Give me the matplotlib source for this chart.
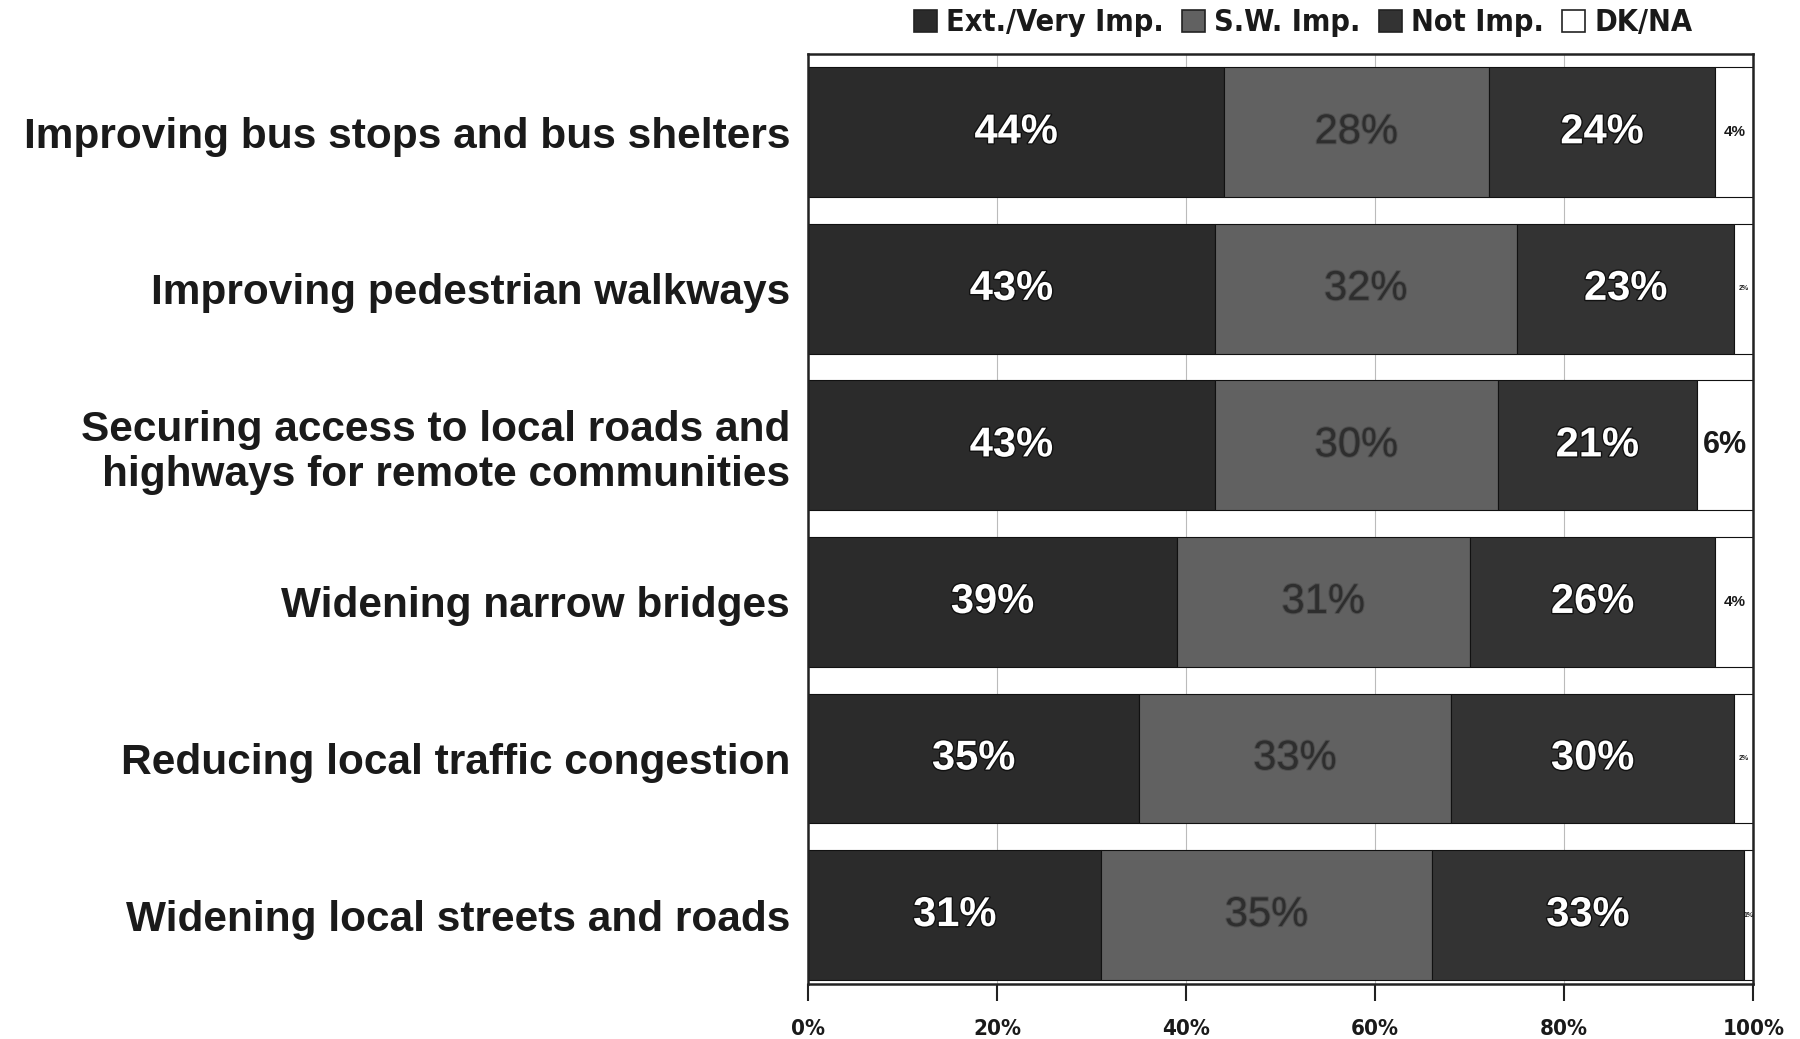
import numpy as np
import matplotlib
matplotlib.use("Agg")
import matplotlib.pyplot as plt
import matplotlib.patheffects as pe
from matplotlib.patches import Patch
from matplotlib import font_manager

categories = [
    "Improving bus stops and bus shelters",
    "Improving pedestrian walkways",
    "Securing access to local roads and\nhighways for remote communities",
    "Widening narrow bridges",
    "Reducing local traffic congestion",
    "Widening local streets and roads",
]
series_names = ["Ext./Very Imp.", "S.W. Imp.", "Not Imp.", "DK/NA"]
ext_very = [44, 43, 43, 39, 35, 31]
sw_imp = [28, 32, 30, 31, 33, 35]
not_imp = [24, 23, 21, 26, 30, 33]
dk_na = [4, 2, 6, 4, 2, 1]
x_ticks = [0, 20, 40, 60, 80, 100]

colors = ["#2b2b2b", "#616161", "#333333", "#ffffff"]
label_colors = ["white", "#2e2e2e", "white", "#1a1a1a"]

# condensed bold face for the legend and the axis ticks
narrow = font_manager.FontProperties(family="DejaVu Sans", stretch="condensed",
                                     weight="bold")

plt.rcParams["font.family"] = ["Liberation Sans", "DejaVu Sans"]

fig = plt.figure(figsize=(18, 10.39), dpi=100)
ax = fig.add_axes([0.449, 0.053, 0.525, 0.895])

y = np.arange(len(categories))
left = np.zeros(len(categories))
for name, vals, col, lcol in zip(series_names, [ext_very, sw_imp, not_imp, dk_na],
                                 colors, label_colors):
    vals = np.array(vals, dtype=float)
    ax.barh(y, vals, left=left, height=0.83, color=col, edgecolor="#111111",
            linewidth=0.8, label=name, zorder=2)
    for yi, l, v in zip(y, left, vals):
        cx = l + v / 2
        if name == "DK/NA":
            # narrow white segments get shrinking labels
            fs = 22 if v >= 5 else (11 if v >= 3 else 5)
            ax.text(cx, yi, f"{int(v)}%", ha="center", va="center",
                    fontsize=fs, fontweight="bold", color=lcol, zorder=3)
        elif name == "S.W. Imp.":
            ax.text(cx, yi, f"{int(v)}%", ha="center", va="center",
                    fontsize=30, color=lcol, zorder=3,
                    path_effects=[pe.withStroke(linewidth=1.5, foreground="#505050")])
        else:
            ax.text(cx, yi, f"{int(v)}%", ha="center", va="center",
                    fontsize=30, fontweight="bold", color=lcol, zorder=3,
                    path_effects=[pe.withStroke(linewidth=2, foreground="#111111")])
    left += vals

ax.set_xlim(0, 100)
ax.set_ylim(5.44, -0.5)
ax.set_yticks(y)
ax.set_yticklabels(categories, fontsize=30.5, fontweight="bold", color="#1a1a1a",
                   ha="right", linespacing=1.15)
ax.tick_params(axis="y", length=0, pad=13)
ax.set_xticks(x_ticks)
ax.set_xticklabels([f"{t}%" for t in x_ticks], fontproperties=narrow, fontsize=16,
                   color="#1a1a1a")
ax.tick_params(axis="x", direction="out", length=12, width=1.5, pad=13,
               color="#222222")
ax.xaxis.grid(True, color="#bbbbbb", linewidth=0.8, zorder=0)
for side in ["left", "right", "top", "bottom"]:
    ax.spines[side].set_color("#222222")
    ax.spines[side].set_linewidth(1.8)

legend_font = narrow.copy()
legend_font.set_size(22)
handles = [Patch(facecolor=c, edgecolor="#222222", linewidth=1.2) for c in colors]
leg = fig.legend(handles, series_names, loc="center", bbox_to_anchor=(0.724, 0.978),
                 ncol=4, frameon=False, handlelength=0.75, handleheight=0.75,
                 handletextpad=0.3, columnspacing=0.6, prop=legend_font)
for t in leg.get_texts():
    t.set_color("#1a1a1a")

fig.savefig("out.png", dpi=100, facecolor="white")
